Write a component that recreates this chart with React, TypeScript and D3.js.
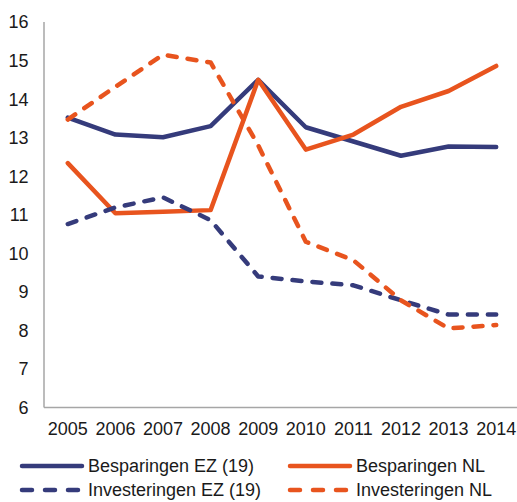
import React, { useRef, useEffect } from 'react';
import * as d3 from 'd3';

const years = ['2005', '2006', '2007', '2008', '2009', '2010', '2011', '2012', '2013', '2014'];
const besparingenEZ = [13.52, 13.08, 13.01, 13.3, 14.5, 13.27, 12.9, 12.53, 12.77, 12.76];
const besparingenNL = [12.34, 11.04, 11.08, 11.12, 14.5, 12.69, 13.08, 13.8, 14.21, 14.86];
const investeringenEZ = [10.76, 11.19, 11.45, 10.86, 9.4, 9.27, 9.17, 8.78, 8.41, 8.41];
const investeringenNL = [13.47, 14.32, 15.15, 14.95, 12.8, 10.3, 9.82, 8.78, 8.05, 8.14];
const yTicks = [6, 7, 8, 9, 10, 11, 12, 13, 14, 15, 16];

const NAVY = '#353b7b';
const ORANGE = '#e8541e';

const series = [
  { name: 'Besparingen EZ (19)', values: besparingenEZ, color: NAVY, dashed: false },
  { name: 'Besparingen NL', values: besparingenNL, color: ORANGE, dashed: false },
  { name: 'Investeringen EZ (19)', values: investeringenEZ, color: NAVY, dashed: true },
  { name: 'Investeringen NL', values: investeringenNL, color: ORANGE, dashed: true },
];

const width = 517;
const height = 502;
const margin = { top: 22, right: 0, bottom: 95, left: 44 };
const font = '"Liberation Sans", Arial, sans-serif';

const App = () => {
  const svgRef = useRef<SVGSVGElement>(null);

  useEffect(() => {
    const svg = d3.select(svgRef.current);
    svg.selectAll('*').remove();

    const innerH = height - margin.top - margin.bottom;

    const x = d3.scalePoint<string>()
      .domain(years)
      .range([margin.left, margin.left + 476])
      .padding(0.5);

    const y = d3.scaleLinear()
      .domain([6, 16])
      .range([margin.top + innerH + 0.5, margin.top]);

    // axes
    svg.append('line')
      .attr('x1', margin.left).attr('x2', margin.left)
      .attr('y1', y(16)).attr('y2', y(6))
      .attr('stroke', '#a6a6a6').attr('stroke-width', 1.5);
    svg.append('line')
      .attr('x1', margin.left).attr('x2', width)
      .attr('y1', y(6)).attr('y2', y(6))
      .attr('stroke', '#a6a6a6').attr('stroke-width', 1.5);

    svg.append('g')
      .selectAll('text')
      .data(yTicks)
      .enter()
      .append('text')
      .attr('x', 28.5)
      .attr('y', d => y(d))
      .attr('dy', '0.36em')
      .attr('text-anchor', 'end')
      .attr('font-family', font)
      .attr('font-size', 18)
      .attr('fill', '#1a1a1a')
      .text(d => d);

    svg.append('g')
      .selectAll('text')
      .data(years)
      .enter()
      .append('text')
      .attr('x', d => x(d)!)
      .attr('y', 434.5)
      .attr('text-anchor', 'middle')
      .attr('font-family', font)
      .attr('font-size', 18)
      .attr('fill', '#1a1a1a')
      .text(d => d);

    const line = d3.line<number>()
      .x((_, i) => x(years[i])!)
      .y(d => y(d));

    series.forEach(s => {
      svg.append('path')
        .datum(s.values)
        .attr('fill', 'none')
        .attr('stroke', s.color)
        .attr('stroke-width', 4.5)
        .attr('stroke-linejoin', 'round')
        .attr('stroke-linecap', 'round')
        .attr('stroke-dasharray', s.dashed ? '9,11' : null)
        .attr('d', line);
    });

    // legend
    const legendPos = [
      { x: 22, y: 466 },
      { x: 290, y: 466 },
      { x: 22, y: 490 },
      { x: 290, y: 490 },
    ];
    series.forEach((s, i) => {
      const p = legendPos[i];
      const g = svg.append('g');
      g.append('line')
        .attr('x1', p.x).attr('x2', p.x + 60)
        .attr('y1', p.y).attr('y2', p.y)
        .attr('stroke', s.color)
        .attr('stroke-width', 4.5)
        .attr('stroke-linecap', 'round')
        .attr('stroke-dasharray', s.dashed ? '10,13' : null);
      g.append('text')
        .attr('x', p.x + 66)
        .attr('y', p.y)
        .attr('dy', '0.36em')
        .attr('font-family', font)
        .attr('font-size', 18)
        .attr('fill', '#1a1a1a')
        .text(s.name);
    });
  }, []);

  return (
    <svg
      ref={svgRef}
      width={width}
      height={height}
      style={{ position: 'absolute', left: 0, top: 0, background: '#fff' }}
    />
  );
};

export default App;
